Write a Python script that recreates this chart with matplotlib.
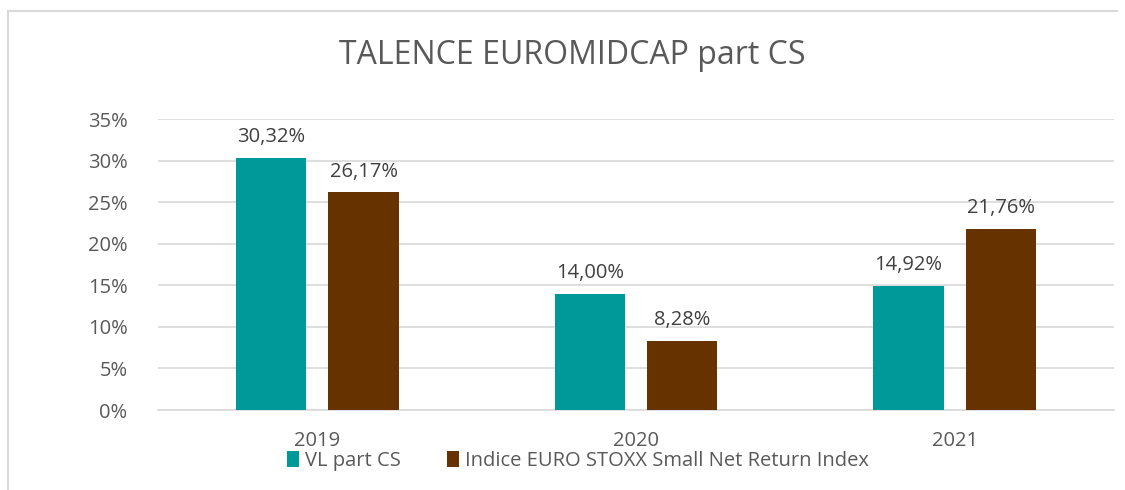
import numpy as np
import matplotlib
matplotlib.use("Agg")
import matplotlib.pyplot as plt
from matplotlib.lines import Line2D

years = ["2019", "2020", "2021"]
vl_part = [30.32, 14.00, 14.92]
indice = [26.17, 8.28, 21.76]
series_names = ["VL part CS", "Indice EURO STOXX Small Net Return Index"]
ticks = [0, 5, 10, 15, 20, 25, 30, 35]

plt.rcParams['font.family'] = ['Open Sans', 'DejaVu Sans']

fig = plt.figure(figsize=(11.25, 4.9), dpi=100)
# chart border (only top and left visible in the crop)
fig.lines.append(Line2D([8/1125, 1117/1125], [1 - 11/490, 1 - 11/490], transform=fig.transFigure,
                        color="#d9d9d9", lw=1.5))
fig.lines.append(Line2D([8/1125, 8/1125], [0, 1 - 11/490], transform=fig.transFigure,
                        color="#d9d9d9", lw=1.5))

ax = fig.add_axes([158/1125, 1 - 410/490, (1114-158)/1125, (410-119)/490])
x = np.arange(len(years))
w = 0.22
off = 0.145
b1 = ax.bar(x - off, vl_part, w, color="#009999", label=series_names[0], zorder=3)
b2 = ax.bar(x + off, indice, w, color="#663300", label=series_names[1], zorder=3)

for bars, vals in ((b1, vl_part), (b2, indice)):
    for r, v in zip(bars, vals):
        ax.text(r.get_x() + r.get_width()/2, v + 1.3, ("%.2f" % v).replace(".", ",") + "%",
                ha="center", va="bottom", fontsize=14.5, color="#404040")

ax.set_xlim(-0.5, 2.5)
ax.set_ylim(0, 35)
ax.set_yticks(ticks)
ax.set_yticklabels(["%d%%" % t for t in ticks])
ax.set_xticks(x)
ax.set_xticklabels(years)
ax.tick_params(axis="both", length=0, labelsize=14.5, labelcolor="#595959")
ax.tick_params(axis="x", pad=15)
ax.tick_params(axis="y", pad=22)
ax.yaxis.grid(True, color="#d9d9d9", lw=1.2, zorder=0)
for s in ["top", "right", "left"]:
    ax.spines[s].set_visible(False)
ax.spines["bottom"].set_color("#d9d9d9")
ax.spines["bottom"].set_linewidth(1.2)

fig.text(572/1125, 1 - 55/490, "TALENCE EUROMIDCAP part CS", ha="center", va="center",
         fontsize=23, color="#595959")

fig.legend(handles=[b1, b2], loc="center", bbox_to_anchor=(578/1125, 1 - 461/490),
           ncol=2, frameon=False, fontsize=14.5, labelcolor="#595959",
           handlelength=0.6, handleheight=0.8, handletextpad=0.3, columnspacing=2.3)

fig.savefig("out.png", dpi=100)
